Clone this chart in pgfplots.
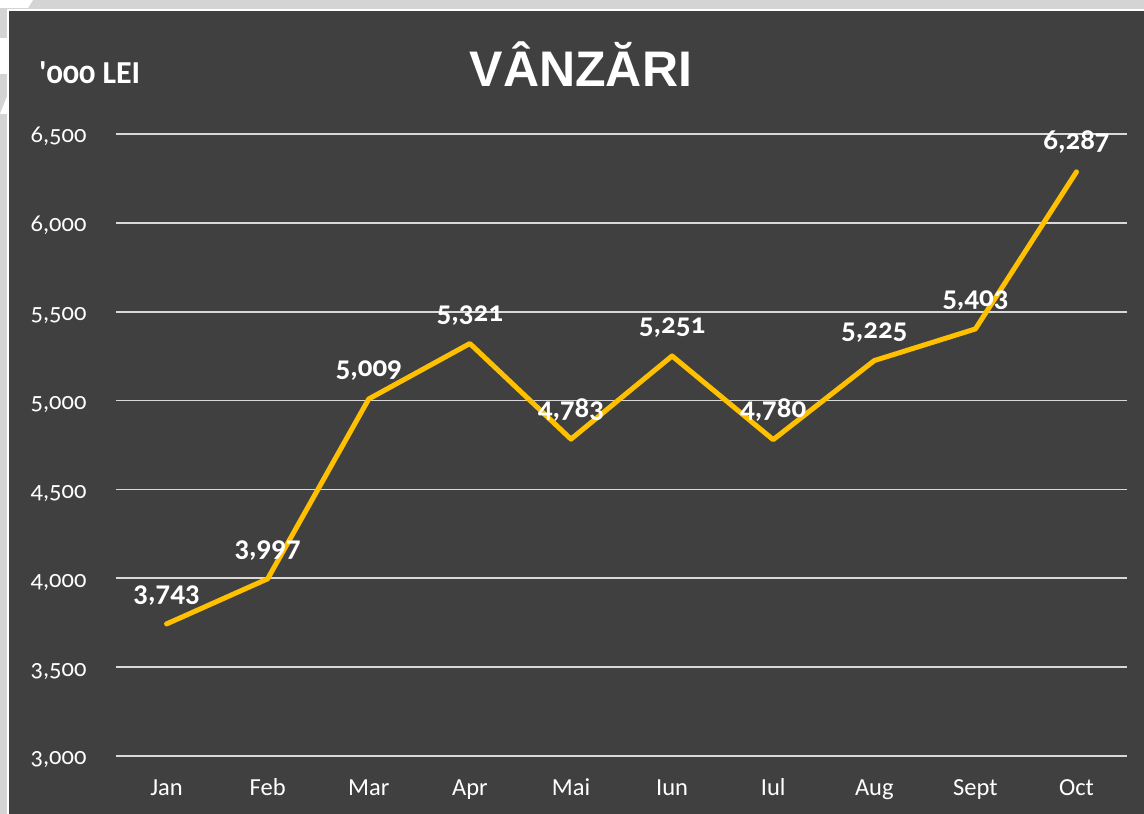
\documentclass[border=0pt]{standalone}
\usepackage{pgfplots}
\pgfplotsset{compat=1.18}
\usepackage{fontspec}
\setmainfont{Carlito}[Numbers=OldStyle]
\newfontfamily\titlefont{Liberation Sans}
\definecolor{panel}{HTML}{404040}
\definecolor{outer}{HTML}{D4D4D4}
\definecolor{gridc}{HTML}{D9D9D9}
\definecolor{linec}{HTML}{FFC000}
\begin{document}
\begin{tikzpicture}[x=1pt,y=1pt]
\useasboundingbox (0,0) rectangle (1144,814);
\fill[outer] (0,0) rectangle (1144,814);
\fill[white] (0,814) -- (33,814) -- (28,806) -- (0,806) -- cycle;
\fill[white] (0,776) -- (8,776) -- (8,740) -- (0,740) -- cycle;
\fill[white] (0,700) -- (8,720) -- (8,700) -- cycle;
\fill[panel] (8,0) rectangle (1144,804);
\draw[white,line width=1.5pt] (8,0) -- (8,804) -- (1144,804);
\node[text=white,font=\titlefont\bfseries\fontsize{50}{56}\selectfont,anchor=base] at (581,727) {VÂNZĂRI};
\node[text=white,font=\bfseries\fontsize{32}{36}\selectfont,anchor=base west,inner sep=0pt] at (39,730) {\textquotesingle000 LEI};
\begin{axis}[
  at={(116pt,58pt)}, anchor=south west,
  scale only axis, width=1011pt, height=622pt,
  xmin=-0.5, xmax=9.5, ymin=3000, ymax=6500,
  axis line style={draw=none},
  major tick length=0pt,
  xtick={0,...,9},
  xticklabels={Jan,Feb,Mar,Apr,Mai,Iun,Iul,Aug,Sept,Oct},
  ytick={3000,3500,...,6500},
  ymajorgrids, grid style={gridc,line width=1.6pt},
  /pgf/number format/assume math mode=true,
  /pgf/number format/.cd, 1000 sep={,}, fixed, precision=0, /pgfplots/.cd,
  tick label style={text=white,font=\fontsize{24.5}{28}\selectfont},
  yticklabel style={anchor=base east,xshift=-26pt,yshift=-9pt},
  xticklabel style={anchor=base,yshift=-40pt},
  clip=false,
  nodes near coords,
  every node near coord/.append style={text=white,font=\bfseries\fontsize{29}{32}\selectfont,anchor=base,yshift=22pt,inner sep=0pt},
]
\addplot[linec,line width=5pt,line join=round,line cap=round] coordinates {
(0,3743) (1,3997) (2,5009) (3,5321) (4,4783) (5,5251) (6,4780) (7,5225) (8,5403) (9,6287)
};
\end{axis}
\end{tikzpicture}
\end{document}
